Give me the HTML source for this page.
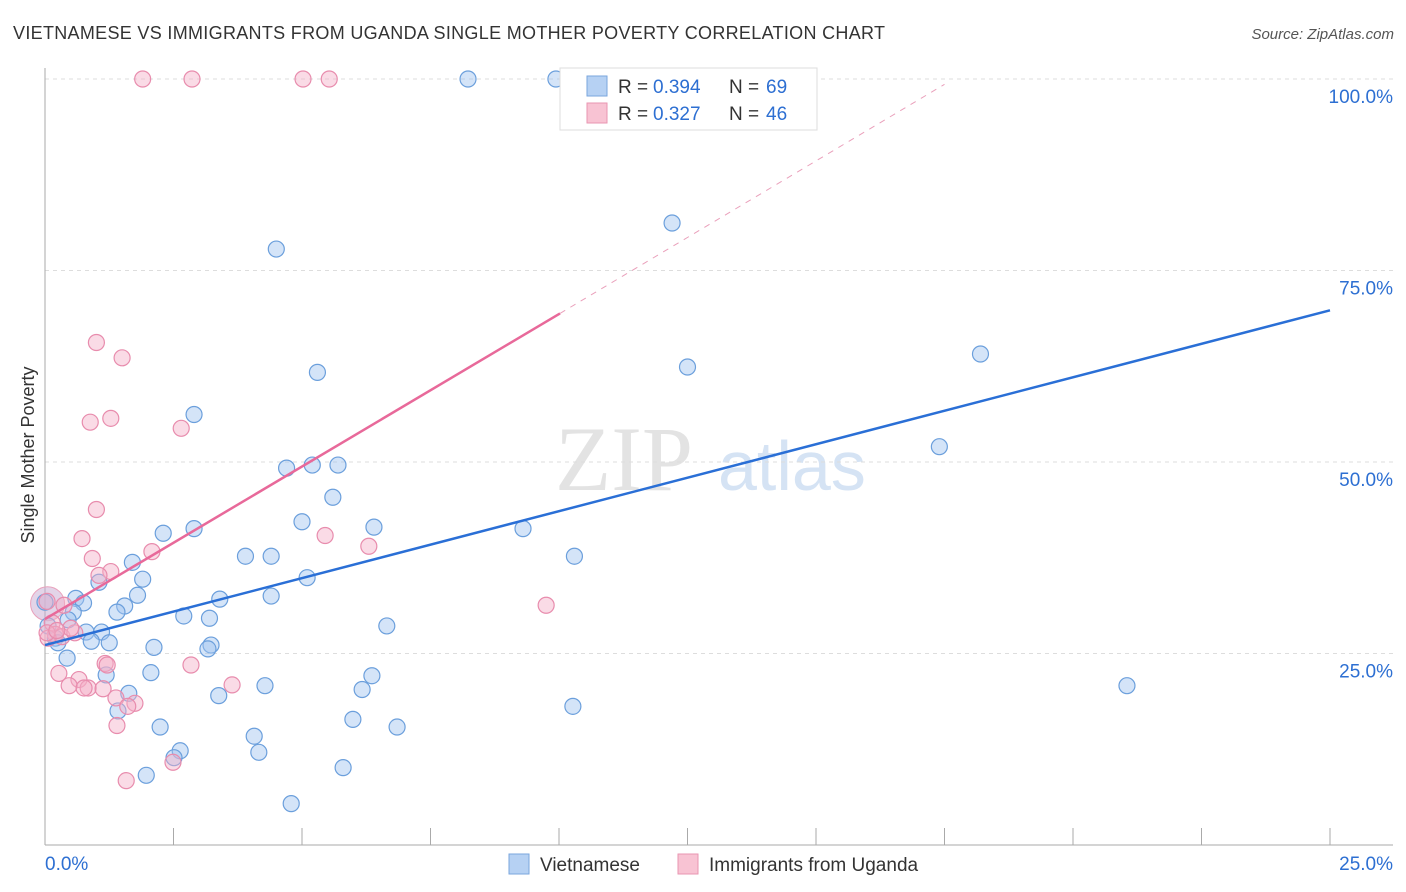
<!DOCTYPE html>
<html><head><meta charset="utf-8"><style>
body{margin:0;background:#fff;font-family:"Liberation Sans",sans-serif;}
svg{display:block}
</style></head><body>
<svg id="chart" width="1406" height="892">
<text x="13" y="39" font-size="18" fill="#333" textLength="872">VIETNAMESE VS IMMIGRANTS FROM UGANDA SINGLE MOTHER POVERTY CORRELATION CHART</text>
<text x="1394" y="39" font-size="15" fill="#555" text-anchor="end" font-style="italic">Source: ZipAtlas.com</text>
<text x="555" y="490" font-size="92" fill="#e3e3e3" font-family="Liberation Serif">ZIP</text>
<text x="718" y="490" font-size="70" fill="#d5e3f4">atlas</text>
<text transform="translate(34,455) rotate(-90)" font-size="18" fill="#333" text-anchor="middle">Single Mother Poverty</text>
<g id="grid"></g><g id="marks"></g>
<g>
<rect x="560" y="68" width="257" height="62" fill="#fff" stroke="#ddd"/>
<rect x="587" y="76" width="20" height="20" fill="#b6d1f3" stroke="#7aa6de"/>
<rect x="587" y="103" width="20" height="20" fill="#f8c3d3" stroke="#e996b2"/>
<text x="618" y="93" font-size="19" fill="#333">R = </text><text x="653" y="93" font-size="19" fill="#2d6fd2">0.394</text>
<text x="729" y="93" font-size="19" fill="#333">N = </text><text x="766" y="93" font-size="19" fill="#2d6fd2">69</text>
<text x="618" y="120" font-size="19" fill="#333">R = </text><text x="653" y="120" font-size="19" fill="#2d6fd2">0.327</text>
<text x="729" y="120" font-size="19" fill="#333">N = </text><text x="766" y="120" font-size="19" fill="#2d6fd2">46</text>
</g>
<g>
<rect x="509" y="854" width="20" height="20" fill="#b6d1f3" stroke="#7aa6de"/>
<text x="540" y="871" font-size="19" fill="#333">Vietnamese</text>
<rect x="678" y="854" width="20" height="20" fill="#f8c3d3" stroke="#e996b2"/>
<text x="709" y="871" font-size="19" fill="#333">Immigrants from Uganda</text>
</g>
</svg>
<script>
const xTicks=[0,2.5,5,7.5,10,12.5,15,17.5,20,22.5,25];
const yTicks=[25,50,75,100];
const blueX=[8.23,9.94,12.2,4.5,12.5,18.2,5.3,2.9,17.4,4.7,5.2,5.7,5.6,2.3,2.9,5.0,6.4,9.3,3.9,4.4,10.3,1.7,1.05,1.9,5.1,1.8,0.6,0.75,1.55,1.4,0.55,3.4,4.4,2.7,3.2,6.65,0.8,1.1,0.45,0.06,0.2,0.25,0.9,1.25,2.12,3.23,3.17,0.43,1.19,2.06,6.36,4.28,1.63,3.38,6.17,10.27,21.05,1.42,2.24,5.99,6.85,4.07,4.16,2.63,2.51,5.8,1.97,4.79,0.0];
const blueY=[100,100,81.2,77.8,62.4,64.1,61.7,56.2,52.0,49.2,49.6,49.6,45.4,40.7,41.3,42.2,41.5,41.3,37.7,37.7,37.7,36.9,34.3,34.7,34.9,32.6,32.2,31.6,31.2,30.4,30.4,32.1,32.5,29.9,29.6,28.6,27.8,27.8,29.4,28.6,27.0,26.4,26.6,26.4,25.8,26.1,25.6,24.4,22.2,22.5,22.1,20.8,19.8,19.5,20.3,18.1,20.8,17.5,15.4,16.4,15.4,14.2,12.1,12.3,11.4,10.1,9.1,5.4,31.7];
const pinkX=[1.9,2.86,5.02,5.53,1.0,1.5,0.88,1.28,2.65,1.0,0.72,5.45,6.3,2.08,0.92,1.28,1.05,9.75,0.37,0.14,0.04,0.2,0.33,0.58,0.5,0.06,1.17,1.21,2.84,0.27,0.66,0.47,0.84,1.13,0.76,3.64,1.38,1.75,1.61,1.4,2.49,1.58,0.04,0.23];
const pinkY=[100,100,100,100,65.6,63.6,55.2,55.7,54.4,43.8,40.0,40.4,39.0,38.3,37.4,35.7,35.2,31.3,31.3,29.0,31.8,27.5,27.2,27.7,28.3,27.0,23.7,23.5,23.5,22.4,21.6,20.8,20.5,20.4,20.5,20.9,19.2,18.5,18.1,15.6,10.8,8.4,27.7,28.0];
const X=v=>45+v/25*1285, Y=v=>845-v*7.66;
const NS="http://www.w3.org/2000/svg";
const grid=document.getElementById('grid'), marks=document.getElementById('marks');
function mk(tag,attrs,parent){const e=document.createElementNS(NS,tag);for(const k in attrs)e.setAttribute(k,attrs[k]);parent.appendChild(e);return e;}
yTicks.forEach(t=>{
 const l=mk('line',{x1:45,x2:1393,y1:Y(t),y2:Y(t),stroke:'#ddd','stroke-dasharray':'4,4'},grid);
 
 
 const tx=mk('text',{x:1393,y:Y(t)+24,'font-size':19,fill:'#2d6fd2','text-anchor':'end'},grid);
 tx.textContent=t.toFixed(1)+'%';
 
 
});
mk('line',{x1:45,x2:45,y1:68,y2:845,stroke:'#aaa'},grid);
mk('line',{x1:45,x2:1393,y1:845,y2:845,stroke:'#aaa'},grid);
xTicks.forEach(t=>{const l=mk('line',{x1:X(t),x2:X(t),y1:828,y2:845,stroke:'#aaa'},grid);
 
 });
let a=mk('text',{x:45,y:870,'font-size':19,fill:'#2d6fd2'},grid);a.textContent='0.0%';


a=mk('text',{x:1393,y:870,'font-size':19,fill:'#2d6fd2','text-anchor':'end'},grid);a.textContent='25.0%';


const big=mk('circle',{cx:X(0.05),cy:Y(31.5),r:17,fill:'rgba(200,170,210,0.5)',stroke:'#e9a0bb'},marks);


blueX.forEach((x,i)=>{const c=mk('circle',{cx:X(x),cy:Y(blueY[i]),r:8,fill:'rgba(160,195,240,0.45)',stroke:'#6b9fdc','stroke-width':1.2},marks);
 
 });
pinkX.forEach((x,i)=>{const c=mk('circle',{cx:X(x),cy:Y(pinkY[i]),r:8,fill:'rgba(245,175,200,0.45)',stroke:'#e88cad','stroke-width':1.2},marks);
 
 });
let t=mk('line',{x1:X(0),y1:Y(26.1),x2:X(25),y2:Y(69.8),stroke:'#2a6fd6','stroke-width':2.5},marks);


t=mk('line',{x1:X(0),y1:Y(29.5),x2:X(10.02),y2:Y(69.4),stroke:'#e8699a','stroke-width':2.5},marks);


t=mk('line',{x1:X(10.02),y1:Y(69.4),x2:X(17.5),y2:Y(99.3),stroke:'#eaa0bb','stroke-width':1,'stroke-dasharray':'6,6'},marks);


</script>
</body></html>
